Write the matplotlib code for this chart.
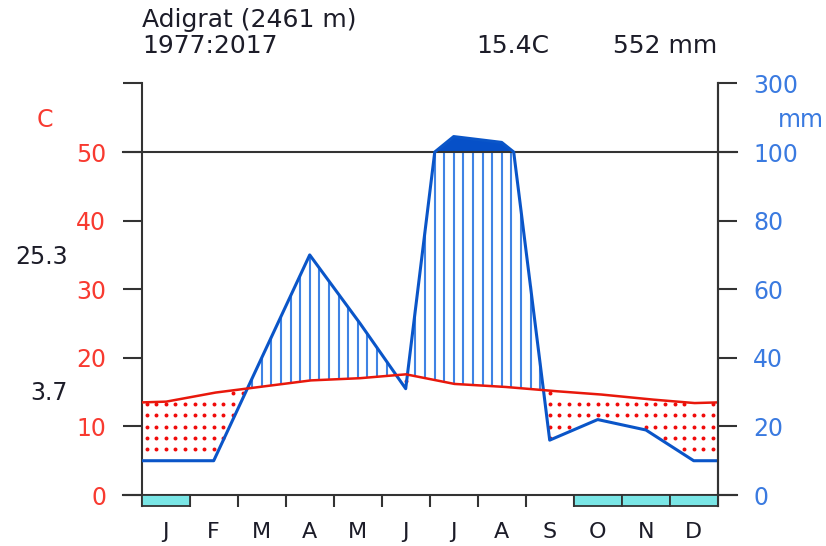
import numpy as np
import matplotlib
matplotlib.use("Agg")
import matplotlib.pyplot as plt
from matplotlib.patches import Rectangle
from matplotlib.transforms import blended_transform_factory

plt.rcParams['font.family'] = ['DejaVu Sans']

# Station data (Walter-Lieth climate diagram)
station = "Adigrat (2461 m)"
period = "1977:2017"
months = ["J", "F", "M", "A", "M", "J", "J", "A", "S", "O", "N", "D"]
temp_c = [13.6, 14.9, 15.8, 16.7, 17.0, 17.6, 16.2, 15.8, 15.2, 14.7, 14.0, 13.4]
precip_mm = [10, 10, 40, 70, 51, 31, 145, 128, 16, 22, 19, 10]
frost_months = [1, 0, 0, 0, 0, 0, 0, 0, 0, 1, 1, 1]
abs_max_label = "25.3"
abs_min_label = "3.7"
left_ticks = [0, 10, 20, 30, 40, 50]
right_tick_labels = ["0", "20", "40", "60", "80", "100", "300"]

TCOL = "#e8180c"
PCOL = "#0a55c8"
TTXT = "#f83a30"
PTXT = "#3a7ae0"
INK = "#1c1c28"
AXC = "#333333"


def to_scale(mm):
    mm = np.asarray(mm, dtype=float)
    return np.where(mm > 100, 50 + (mm - 100) / 20.0, mm / 2.0)


# Curves extended to the plot edges with the Dec/Jan mean
xm = np.concatenate([[0], np.arange(12) + 0.5, [12]])
t_ext = np.concatenate([[(temp_c[0] + temp_c[-1]) / 2], temp_c, [(temp_c[0] + temp_c[-1]) / 2]])
p_ext = np.concatenate([[(precip_mm[0] + precip_mm[-1]) / 2], precip_mm, [(precip_mm[0] + precip_mm[-1]) / 2]])

xf = np.linspace(0, 12, 2401)
tf = np.interp(xf, xm, t_ext)
pf_mm = np.interp(xf, xm, p_ext)
pf = to_scale(pf_mm)

fig = plt.figure(figsize=(8.26, 5.46), dpi=100)
W, H = 826, 546
ax = fig.add_axes([141.7 / W, 1 - 506 / H, 576 / W, (506 - 83.4) / H])
ax.set_xlim(0, 12)
ax.set_ylim(-1.6, 60)

# Humid period: vertical hatching between temperature and precipitation
xs = np.arange(0.1, 12, 0.2)
ts = np.interp(xs, xf, tf)
ps = np.interp(xs, xf, pf)
wet = ps > ts
ax.vlines(xs[wet], ts[wet], np.minimum(ps[wet], 50), color="#3f83e4", lw=1.5, zorder=2)

# Very wet part (> 100 mm): solid fill
ax.fill_between(xf, 50, pf, where=pf > 50, color="#0650c8", lw=0, zorder=2)

# Arid period: dotted area
gx, gy = np.meshgrid(np.arange(0.1, 12, 0.2), np.arange(5.0, 20, 1.65))
gx, gy = gx.ravel(), gy.ravel()
gt = np.interp(gx, xf, tf)
gp = np.interp(gx, xf, pf)
dry = (gy > gp + 0.25) & (gy < gt - 0.2)
ax.scatter(gx[dry], gy[dry], s=8, color="#f00a0a", lw=0, zorder=2)

ax.plot(xf, pf, color=PCOL, lw=2.2, zorder=4, solid_joinstyle="round")
ax.plot(xf, tf, color=TCOL, lw=1.8, zorder=5)

# Reference lines at 0 and 50 C (100 mm)
blend = blended_transform_factory(ax.transAxes, ax.transData)
ext = 19 / 576
for yv in (0, 50):
    ax.plot([-ext, 1 + ext], [yv, yv], transform=blend, color=AXC, lw=1.5,
            clip_on=False, zorder=3)

# Frost months bar
for i, f in enumerate(frost_months):
    if f:
        ax.add_patch(Rectangle((i, -1.6), 1, 1.6, facecolor="#7ae6e6",
                               edgecolor=AXC, lw=1.3, clip_on=False, zorder=6))

# Month boundary ticks
ax.vlines(np.arange(1, 12), -1.75, 0, color=AXC, lw=1.5, clip_on=False, zorder=3)

for s in ("top", "bottom"):
    ax.spines[s].set_visible(False)
for s in ("left", "right"):
    ax.spines[s].set_color(AXC)
    ax.spines[s].set_linewidth(1.5)

# Month letters
ax.set_xticks([])
mblend = blended_transform_factory(ax.transData, fig.transFigure)
for i, m in enumerate(months):
    ax.text(i + 0.5, 1 - 532 / H, m, transform=mblend, ha="center", va="center",
            fontsize=16, color=INK)

ax.set_yticks(left_ticks + [60], [str(v) for v in left_ticks] + [""])
ax.tick_params(axis="y", direction="out", length=13.5, width=1.5, color=AXC,
               pad=12, labelsize=17, labelcolor=TTXT)

ax2 = ax.twinx()
ax2.set_ylim(ax.get_ylim())
for s in ("top", "bottom", "left"):
    ax2.spines[s].set_visible(False)
ax2.spines["right"].set_color(AXC)
ax2.spines["right"].set_linewidth(1.5)
ax2.set_yticks([0, 10, 20, 30, 40, 50, 60], right_tick_labels)
ax2.tick_params(axis="y", direction="out", length=13.5, width=1.5, color=AXC,
                pad=12, labelsize=17, labelcolor=PTXT)

# Header texts
mean_t = np.mean(temp_c)
total_p = np.sum(precip_mm)
fig.text(142 / W, 1 - 27 / H, station, fontsize=18, color=INK, va="baseline")
fig.text(142 / W, 1 - 53 / H, period, fontsize=18, color=INK, va="baseline")
fig.text(476 / W, 1 - 53 / H, f"{mean_t:.1f}C", fontsize=18, color=INK, va="baseline")
fig.text(717 / W, 1 - 53 / H, f"{total_p:.0f} mm", fontsize=18, color=INK,
         va="baseline", ha="right")
fig.text(45 / W, 1 - 120 / H, "C", fontsize=17, color=TTXT, ha="center", va="center")
fig.text(801 / W, 1 - 120 / H, "mm", fontsize=17, color=PTXT, ha="center", va="center")
fig.text(68 / W, 1 - 257 / H, abs_max_label, fontsize=17, color=INK, ha="right", va="center")
fig.text(68 / W, 1 - 393 / H, abs_min_label, fontsize=17, color=INK, ha="right", va="center")

fig.savefig("out.png", dpi=100, facecolor="white")
